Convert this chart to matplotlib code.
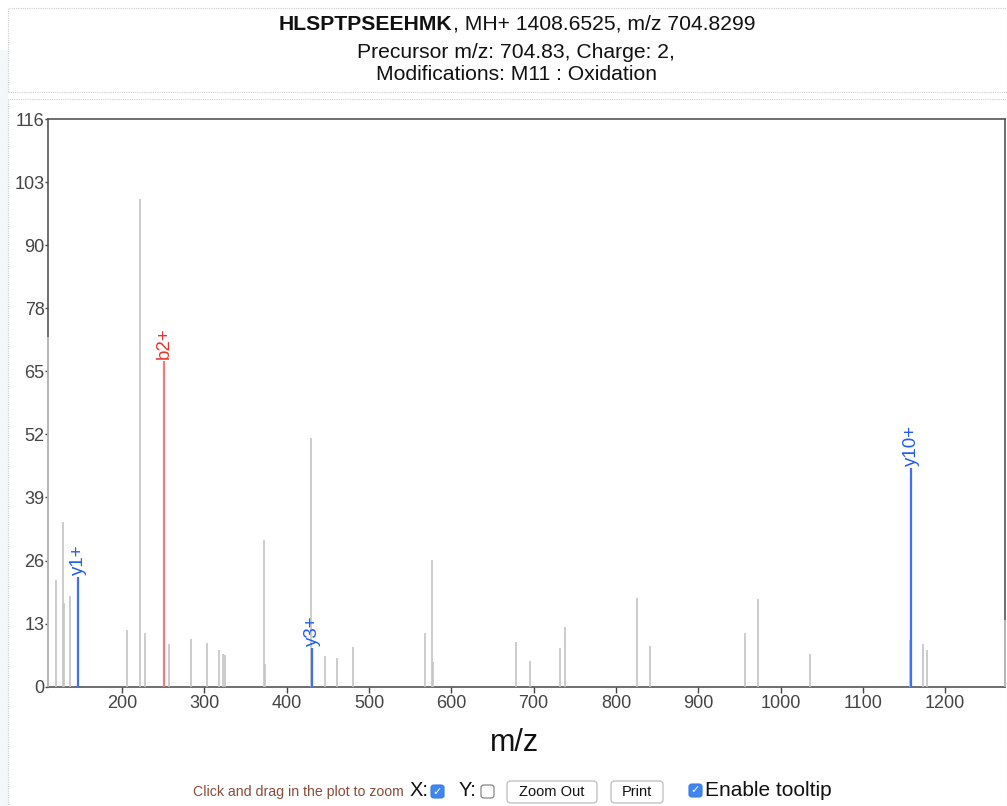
import matplotlib
matplotlib.use("Agg")
import matplotlib.pyplot as plt
from matplotlib.patches import Rectangle, FancyBboxPatch
import numpy as np

# ---------------- data ----------------
peak_mz = [110.07, 120.1, 128.2, 129.9, 136.3, 206.3, 222.4, 227.3, 257.6, 283.9,
           303.3, 317.4, 322.2, 325.5, 372.8, 374.0, 429.5, 446.8, 461.7, 480.8,
           568.5, 576.2, 577.8, 678.1, 695.9, 731.5, 738.3, 825.6, 841.9, 956.6,
           972.9, 1036.0, 1157.3, 1173.0, 1177.9, 1272.5]
peak_int = [71.5, 21.9, 33.6, 17.2, 18.6, 11.6, 99.7, 10.9, 8.7, 9.7,
            8.9, 7.5, 6.7, 6.4, 30.0, 4.6, 50.9, 6.3, 5.8, 8.1,
            10.9, 25.8, 5.1, 9.1, 5.3, 7.9, 12.1, 18.1, 8.3, 11.0,
            17.9, 6.7, 9.5, 8.7, 7.5, 13.6]

ion_names = ["y1+", "b2+", "y3+", "y10+"]
ion_mz = [147.11, 251.15, 431.21, 1158.51]
ion_int = [22.4, 66.5, 7.9, 44.7]
ion_type = ["y", "b", "y", "y"]

y_tick_labels = ["0", "13", "26", "39", "52", "65", "78", "90", "103", "116"]
x_ticks = [200, 300, 400, 500, 600, 700, 800, 900, 1000, 1100, 1200]

title_bold = "HLSPTPSEEHMK"
title_rest = ", MH+ 1408.6525, m/z 704.8299"
subtitle1 = "Precursor m/z: 704.83, Charge: 2,"
subtitle2 = "Modifications: M11 : Oxidation"

# ---------------- styles ----------------
W, H = 1007, 806
FONT = ["Liberation Sans", "DejaVu Sans"]
plt.rcParams["font.family"] = FONT
line_colors = {"y": "#3f6ff2", "b": "#f07b7b"}
label_colors = {"y": "#1f5cf0", "b": "#e8342c"}
gray = "#c4c4c4"

fig = plt.figure(figsize=(W / 100, H / 100), dpi=100)
fig.patch.set_facecolor("white")


def fx(x):
    return x / W


def fy(y):
    return 1 - y / H


# background strip and dotted boxes
fig.patches.append(Rectangle((0, fy(806)), fx(8), fy(50) - fy(806), transform=fig.transFigure,
                             facecolor="#f2f7f9", edgecolor="none", zorder=0))
fig.patches.append(Rectangle((fx(8), fy(92)), fx(1007) - fx(8), fy(8) - fy(92),
                             transform=fig.transFigure, facecolor="white",
                             edgecolor="#cfcfcf", linestyle=(0, (1, 1)), lw=0.8, zorder=1))
fig.patches.append(Rectangle((fx(8), fy(810)), fx(1007) - fx(8), fy(99) - fy(810),
                             transform=fig.transFigure, facecolor="white",
                             edgecolor="#cfcfcf", linestyle=(0, (1, 1)), lw=0.8, zorder=1))

# header text (line 1 centred as a whole)
TS = 15.2
renderer = fig.canvas.get_renderer()
t_b = fig.text(0, fy(24), title_bold, ha="left", va="center", fontsize=TS,
               fontweight="bold", color="#111")
t_r = fig.text(0, fy(24), title_rest, ha="left", va="center", fontsize=TS, color="#111")
wb = t_b.get_window_extent(renderer).width
wr = t_r.get_window_extent(renderer).width
x_start = 517 - (wb + wr) / 2
t_b.set_x(fx(x_start))
t_r.set_x(fx(x_start + wb))
fig.text(fx(516), fy(53), subtitle1, ha="center", va="center", fontsize=TS, color="#111")
fig.text(fx(516), fy(74), subtitle2, ha="center", va="center", fontsize=TS, color="#111")

# axes
left, right, top, bottom = 48, 1005, 119, 686.7
ax = fig.add_axes([fx(left), fy(bottom), fx(right) - fx(left), fy(top) - fy(bottom)])
ax.set_zorder(2)
ymax = 116
ax.set_xlim(min(peak_mz), 1272.6)
ax.set_ylim(0, ymax)

ax.vlines(peak_mz, 0, peak_int, colors=gray, lw=1.2, zorder=3, clip_on=False)
for name, mz, inten, t in zip(ion_names, ion_mz, ion_int, ion_type):
    ax.vlines(mz, 0, inten, colors=line_colors[t], lw=1.6, zorder=4)
    ax.annotate(name, xy=(mz, inten), xytext=(0, 1.5), textcoords="offset points",
                rotation=90, ha="center", va="bottom", fontsize=13.5,
                color=label_colors[t], zorder=5)

ax.set_yticks(np.linspace(0, ymax, len(y_tick_labels)))
ax.set_yticklabels(y_tick_labels)
ax.set_xticks(x_ticks)
ax.set_xticklabels([str(v) for v in x_ticks])
ax.tick_params(axis="both", labelsize=13, labelcolor="#444", color="#444",
               width=1, direction="out")
ax.tick_params(axis="x", length=4, pad=2)
ax.tick_params(axis="y", length=2, pad=0.5)
for s in ax.spines.values():
    s.set_color("#555")
    s.set_linewidth(1.2)
    s.set_zorder(2.5)

fig.text(fx(515), fy(743), "m/z", ha="center", va="center", fontsize=22, color="#111")

# controls
fig.text(fx(193), fy(792), "Click and drag in the plot to zoom", ha="left", va="center",
         fontsize=10.2, color="#8a4b38")
fig.text(fx(410), fy(790), "X:", ha="left", va="center", fontsize=14.5, color="#111")
fig.text(fx(459), fy(790), "Y:", ha="left", va="center", fontsize=14.5, color="#111")
fig.text(fx(705), fy(790), "Enable tooltip", ha="left", va="center", fontsize=15, color="#111")


def checkbox(x0, y0, checked):
    size = 13
    if checked:
        p = FancyBboxPatch((fx(x0), fy(y0 + size)), fx(size), fy(0) - fy(size),
                           boxstyle="round,pad=0,rounding_size=0.003", transform=fig.transFigure,
                           facecolor="#3f86f0", edgecolor="#3a7de0", lw=0.8, zorder=3)
        fig.patches.append(p)
        fig.text(fx(x0 + size / 2), fy(y0 + size / 2), "\u2713", ha="center", va="center",
                 fontsize=8, color="white", family="DejaVu Sans", zorder=4)
    else:
        p = FancyBboxPatch((fx(x0), fy(y0 + size)), fx(size), fy(0) - fy(size),
                           boxstyle="round,pad=0,rounding_size=0.003", transform=fig.transFigure,
                           facecolor="white", edgecolor="#777", lw=0.8, zorder=3)
        fig.patches.append(p)


def button(x0, x1, y0, y1, label):
    p = FancyBboxPatch((fx(x0), fy(y1)), fx(x1 - x0), fy(0) - fy(y1 - y0),
                       boxstyle="round,pad=0,rounding_size=0.004", transform=fig.transFigure,
                       facecolor="white", edgecolor="#bdbdbd", lw=0.9, zorder=3)
    fig.patches.append(p)
    fig.text(fx((x0 + x1) / 2), fy((y0 + y1) / 2 + 0.5), label, ha="center", va="center",
             fontsize=10.5, color="#111", zorder=4)


checkbox(431, 785, True)
checkbox(481, 785, False)
checkbox(689, 784, True)
button(507, 597, 781, 803, "Zoom Out")
button(611, 663, 781, 803, "Print")

fig.savefig("out.png", dpi=100)
